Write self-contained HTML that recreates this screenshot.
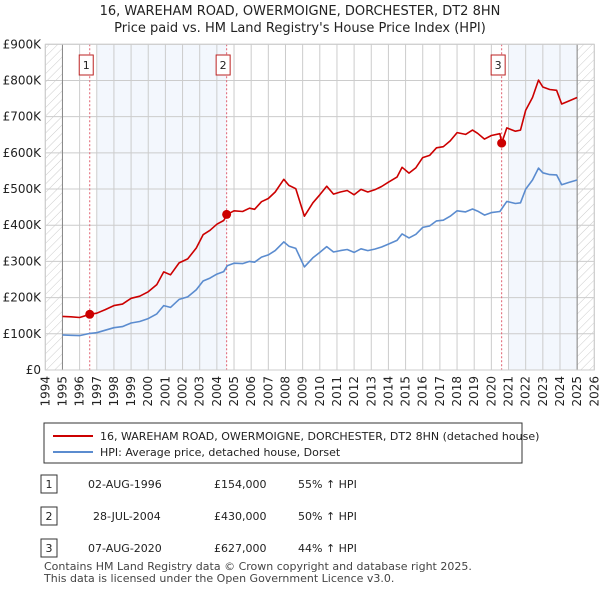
<!DOCTYPE html>
<html><head><meta charset="utf-8"><style>
body{margin:0;background:#fff;font-family:"Liberation Sans","DejaVu Sans",sans-serif;}
svg text{font-family:"DejaVu Sans","Liberation Sans",sans-serif;}
</style></head><body>
<svg id="c" width="600" height="590" xmlns="http://www.w3.org/2000/svg">
<defs><pattern id="hatch" width="6" height="6" patternUnits="userSpaceOnUse" patternTransform="rotate(45)"><line x1="0" y1="0" x2="0" y2="6" stroke="#ccc" stroke-width="1"/></pattern></defs>
<text x="300" y="15" text-anchor="middle" font-size="13" fill="#222">16, WAREHAM ROAD, OWERMOIGNE, DORCHESTER, DT2 8HN</text>
<text x="300" y="32" text-anchor="middle" font-size="13" fill="#222">Price paid vs. HM Land Registry's House Price Index (HPI)</text>
<g id="plot"></g>
<rect x="44" y="423" width="478" height="40" fill="#fff" stroke="#333"/>
<line x1="53" y1="436" x2="93" y2="436" stroke="#cc0000" stroke-width="2"/>
<text x="100" y="440" font-size="11" fill="#222">16, WAREHAM ROAD, OWERMOIGNE, DORCHESTER, DT2 8HN (detached house)</text>
<line x1="53" y1="452" x2="93" y2="452" stroke="#5b8ccf" stroke-width="2"/>
<text x="100" y="456" font-size="11" fill="#222">HPI: Average price, detached house, Dorset</text>
<g font-size="11" fill="#222">
<rect x="41" y="475" width="16" height="18" fill="#fff" stroke="#333"/><text x="49" y="488" text-anchor="middle">1</text>
<text x="88" y="488">02-AUG-1996</text><text x="214" y="488">£154,000</text><text x="298" y="488">55% ↑ HPI</text>
<rect x="41" y="507" width="16" height="18" fill="#fff" stroke="#333"/><text x="49" y="520" text-anchor="middle">2</text>
<text x="93" y="520">28-JUL-2004</text><text x="214" y="520">£430,000</text><text x="298" y="520">50% ↑ HPI</text>
<rect x="41" y="539" width="16" height="18" fill="#fff" stroke="#333"/><text x="49" y="552" text-anchor="middle">3</text>
<text x="88" y="552">07-AUG-2020</text><text x="214" y="552">£627,000</text><text x="298" y="552">44% ↑ HPI</text>
<text x="44" y="570" fill="#444">Contains HM Land Registry data © Crown copyright and database right 2025.</text>
<text x="44" y="582" fill="#444">This data is licensed under the Open Government Licence v3.0.</text>
</g>
</svg>
<script>
const yearTicks=[1994,1995,1996,1997,1998,1999,2000,2001,2002,2003,2004,2005,2006,2007,2008,2009,2010,2011,2012,2013,2014,2015,2016,2017,2018,2019,2020,2021,2022,2023,2024,2025,2026];
const valueTicks=[0,100,200,300,400,500,600,700,800,900];
const valueTickLabels=["£0","£100K","£200K","£300K","£400K","£500K","£600K","£700K","£800K","£900K"];
const hpiT=[1995.0,1995.5,1996.0,1996.6,1997.0,1997.5,1998.0,1998.5,1999.0,1999.5,2000.0,2000.5,2000.9,2001.3,2001.8,2002.3,2002.8,2003.2,2003.6,2004.0,2004.4,2004.6,2005.0,2005.5,2005.9,2006.2,2006.6,2007.0,2007.4,2007.9,2008.2,2008.6,2009.1,2009.6,2010.0,2010.4,2010.8,2011.2,2011.6,2012.0,2012.4,2012.8,2013.2,2013.6,2014.0,2014.5,2014.8,2015.2,2015.6,2016.0,2016.4,2016.8,2017.2,2017.6,2018.0,2018.5,2018.9,2019.2,2019.6,2020.0,2020.5,2020.9,2021.4,2021.7,2022.0,2022.4,2022.75,2023.0,2023.4,2023.8,2024.1,2024.5,2025.0];
const hpiV=[97,96,95,101,103,110,117,120,130,134,142,155,178,173,195,202,222,246,254,265,272,288,295,294,300,298,312,318,330,354,342,336,285,310,325,341,326,330,333,325,335,330,334,340,348,358,376,365,375,394,398,412,414,425,440,437,445,439,428,435,438,466,460,462,500,525,558,545,540,539,512,518,525];
const priceT=[1995.0,1995.5,1996.0,1996.6,1997.0,1997.5,1998.0,1998.5,1999.0,1999.5,2000.0,2000.5,2000.9,2001.3,2001.8,2002.3,2002.8,2003.2,2003.6,2004.0,2004.4,2004.6,2005.0,2005.5,2005.9,2006.2,2006.6,2007.0,2007.4,2007.9,2008.2,2008.6,2009.1,2009.6,2010.0,2010.4,2010.8,2011.2,2011.6,2012.0,2012.4,2012.8,2013.2,2013.6,2014.0,2014.5,2014.8,2015.2,2015.6,2016.0,2016.4,2016.8,2017.2,2017.6,2018.0,2018.5,2018.9,2019.2,2019.6,2020.0,2020.5,2020.6,2020.9,2021.4,2021.7,2022.0,2022.4,2022.75,2023.0,2023.4,2023.8,2024.1,2024.5,2025.0];
const priceV=[148,147,145,154,157,167,178,182,198,204,216,236,271,263,296,307,337,374,386,403,413,430,440,438,447,444,465,474,492,527,510,501,425,462,484,508,486,492,496,484,499,492,498,507,519,533,560,544,559,587,593,614,617,633,656,651,663,654,638,648,653,627,669,660,663,718,753,801,782,775,773,735,743,753];
const saleT=[1996.59,2004.57,2020.6];
const saleV=[154,430,627];
const saleLabels=["1","2","3"];
const NS="http://www.w3.org/2000/svg";
const x0=45.3,x1=594.3,yTop=44.3,yBot=370;
const X=t=>x0+(t-1994)/(2026-1994)*(x1-x0);
const Y=v=>yBot-v/900*(yBot-yTop);
const g=document.getElementById('plot');
function mk(tag,attrs){const e=document.createElementNS(NS,tag);for(const k in attrs)e.setAttribute(k,attrs[k]);g.appendChild(e);return e;}
let e;
e=mk('rect',{x:X(1997),y:yTop,width:X(2004.57)-X(1997),height:yBot-yTop,fill:'#eef3fc',opacity:0.7});


e=mk('rect',{x:X(2021),y:yTop,width:X(2025)-X(2021),height:yBot-yTop,fill:'#eef3fc',opacity:0.7});


e=mk('rect',{x:X(1994),y:yTop,width:X(1995)-X(1994),height:yBot-yTop,fill:'url(#hatch)'});


e=mk('rect',{x:X(2025),y:yTop,width:X(2026)-X(2025),height:yBot-yTop,fill:'url(#hatch)'});


yearTicks.forEach(t=>{
 e=mk('line',{x1:X(t),x2:X(t),y1:yTop,y2:yBot,stroke:'#ccc','stroke-width':1});
 
 
 e=mk('text',{x:0,y:0,transform:`translate(${X(t)+4},${yBot+6}) rotate(-90)`,'text-anchor':'end','font-size':12,fill:'#222'});
 e.textContent=t;
 
 
});
valueTicks.forEach((v,i)=>{
 e=mk('line',{x1:x0,x2:x1,y1:Y(v),y2:Y(v),stroke:'#ccc','stroke-width':1});
 
 
 e=mk('text',{x:41,y:Y(v)+4,'text-anchor':'end','font-size':12,fill:'#222'});
 e.textContent=valueTickLabels[i];
 
 
});
e=mk('line',{x1:X(1995),x2:X(1995),y1:yTop,y2:yBot,stroke:'#888','stroke-width':1});


e=mk('line',{x1:X(2025),x2:X(2025),y1:yTop,y2:yBot,stroke:'#888','stroke-width':1});


saleT.forEach((t,i)=>{
 e=mk('line',{x1:X(t),x2:X(t),y1:yTop,y2:yBot,stroke:'#e06070','stroke-width':1,'stroke-dasharray':'2,2'});
 
 
 e=mk('rect',{x:X(t)-10.5,y:55,width:14,height:20,fill:'#fff',stroke:'#b22'});
 
 
 e=mk('text',{x:X(t)-3.5,y:69,'text-anchor':'middle','font-size':11,fill:'#222'});
 e.textContent=saleLabels[i];
 
 
});
function path(T,V,col,name){
 let d=T.map((t,i)=>(i?'L':'M')+X(t).toFixed(1)+','+Y(V[i]).toFixed(1)).join('');
 const p=mk('path',{d:d,fill:'none',stroke:col,'stroke-width':1.6,'stroke-linejoin':'round'});
 
 
}
path(hpiT,hpiV,'#5b8ccf','hpi-line');
path(priceT,priceV,'#cc0000','price-line');
saleT.forEach((t,i)=>{
 e=mk('circle',{cx:X(t),cy:Y(saleV[i]),r:4.5,fill:'#cc0000'});
 
 
});
e=mk('rect',{x:x0,y:yTop,width:x1-x0,height:yBot-yTop,fill:'none',stroke:'#ccc'});


</script>
</body></html>
